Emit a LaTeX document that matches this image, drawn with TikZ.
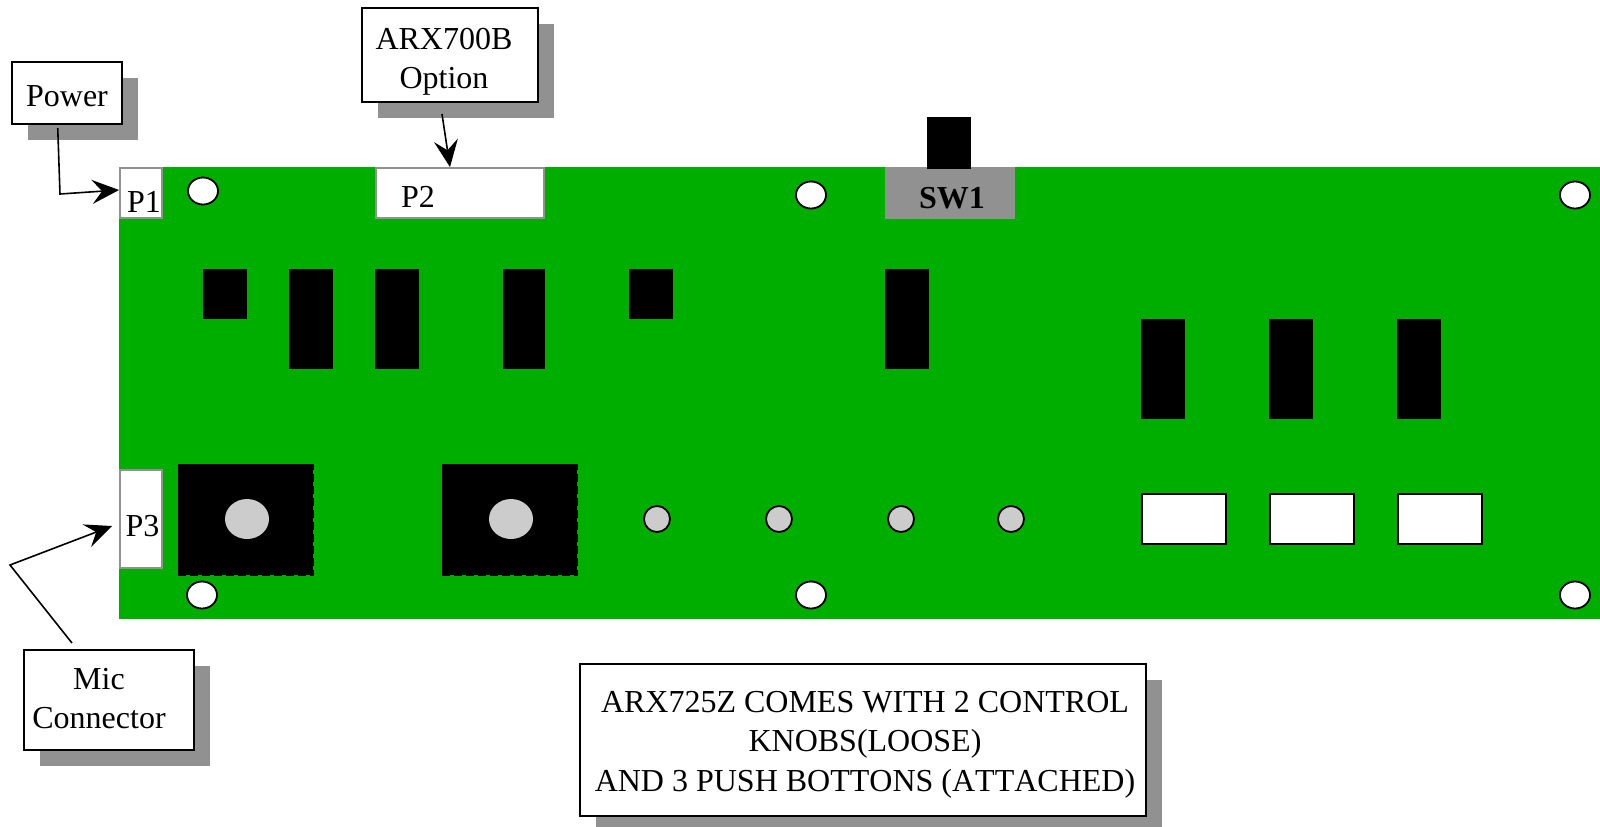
\documentclass[tikz,border=0pt]{standalone}
\usepackage{fontspec}
\setmainfont[Kerning=Off]{Liberation Serif}
\usepackage{tikz}
\usetikzlibrary{arrows.meta,positioning,shapes,shadows,calc}
\definecolor{pcbgreen}{RGB}{0,174,0}
\definecolor{shadegray}{RGB}{145,145,145}
\definecolor{knobgray}{RGB}{204,204,204}
\begin{document}
\begin{tikzpicture}[x=0.5pt,y=-0.5pt,
    every node/.style={font=\fontsize{16}{19.7}\selectfont,inner sep=0pt,align=center},
    callout/.style={draw=black,line width=1pt,fill=white,
        drop shadow={shadow xshift=8.2pt,shadow yshift=-8.2pt,fill=shadegray,opacity=1}},
    port/.style={draw=shadegray,line width=0.9pt,fill=white},
    chip/.style={fill=black},
    hole/.style={draw=black,line width=0.9pt,fill=white,ellipse,minimum width=15pt,minimum height=13.5pt},
    pot/.style={fill=knobgray,ellipse,minimum width=22pt,minimum height=20pt},
    led/.style={draw=black,line width=0.9pt,fill=knobgray,circle,minimum size=13pt},
    pushbtn/.style={draw=black,line width=0.9pt,fill=white},
    lead/.style={line width=0.8pt,-{Stealth[length=13.5pt,width=12pt,inset=5pt]}}]
    \useasboundingbox (0,0) rectangle (1600,826);
    % board
    \fill [pcbgreen] (119,167) rectangle (1600,619);
    % mounting holes
    \node [hole] (h1) at (203,191) {};
    \node [hole] (h2) at (811,195) {};
    \node [hole] (h3) at (1575,195) {};
    \node [hole] (h4) at (202,595) {};
    \node [hole] (h5) at (811,595) {};
    \node [hole] (h6) at (1575,595) {};
    % ports
    \node [port,minimum width=21pt,minimum height=25pt] (p1) at (141,193) {};
    \node [anchor=base] (p1text) at (144,212) {P1};
    \node [port,minimum width=84pt,minimum height=25pt] (p2) at (460,193) {};
    \node [anchor=base] (p2text) at (418,207) {P2};
    \node [port,minimum width=21pt,minimum height=49pt] (p3) at (141,519) {};
    \node [anchor=base] (p3text) at (142.5,536) {P3};
    % switch
    \fill [shadegray] (885,167) rectangle (1015,218.5);
    \fill [chip] (927,117) rectangle (971,169);
    \node [anchor=base,font=\fontsize{16}{19.7}\selectfont\bfseries] (sw1) at (952,208) {SW1};
    % upper row of chips
    \fill [chip] (203,269) rectangle (247,318.5);
    \fill [chip] (289,269) rectangle (333,368.5);
    \fill [chip] (375,269) rectangle (419,368.5);
    \fill [chip] (503,269) rectangle (545,368.5);
    \fill [chip] (629,269) rectangle (673,318.5);
    \fill [chip] (885,269) rectangle (929,368.5);
    \fill [chip] (1141,319) rectangle (1185,419);
    \fill [chip] (1269,319) rectangle (1313,419);
    \fill [chip] (1397,319) rectangle (1441,419);
    % control knobs
    \fill [chip] (178,464) rectangle (312.5,574.5);
    \draw [line width=1pt,dash pattern=on 4pt off 2pt] (178,575) -- (313,575) -- (313,464);
    \node [pot] (knob1) at (247,519) {};
    \fill [chip] (442,464) rectangle (576.5,574.5);
    \draw [line width=1pt,dash pattern=on 4pt off 2pt] (442,575) -- (577,575) -- (577,464);
    \node [pot] (knob2) at (511,519) {};
    % small round parts
    \node [led] (led1) at (657,519) {};
    \node [led] (led2) at (779,519) {};
    \node [led] (led3) at (901,519) {};
    \node [led] (led4) at (1011,519) {};
    % push buttons
    \draw [pushbtn] (1142,494) rectangle (1226,544);
    \draw [pushbtn] (1270,494) rectangle (1354,544);
    \draw [pushbtn] (1398,494) rectangle (1482,544);
    % callouts
    \node [callout,minimum width=55pt,minimum height=31pt] (power) at (66.75,93) {};
    \node (powertext) at (67,96) {Power};
    \node [callout,minimum width=88pt,minimum height=47pt] (arx) at (450,55) {};
    \node (arxtext) at (444,62) {ARX700B\\Option};
    \node [callout,minimum width=85pt,minimum height=50pt] (mic) at (109,700) {};
    \node (mictext) at (99,698.5) {Mic\\Connector};
    \node [callout,minimum width=283pt,minimum height=76pt] (note) at (863,739.5) {};
    \node (notetext) at (865,744.5) {ARX725Z COMES WITH 2 CONTROL\\KNOBS(LOOSE)\\AND 3 PUSH BOTTONS (ATTACHED)};
    % leads
    \coordinate (powerbend) at (60,194);
    \coordinate (micbend) at (10,565);
    \draw [lead] ($(power.south)+(-9,3)$) -- (powerbend) -- ($(p1.west)+(0,-3)$);
    \draw [lead] ($(arx.south)+(-8,11)$) -- ($(p2.north)+(-10,0)$);
    \draw [lead] ($(mic.north)+(-37,-6)$) -- (micbend) -- ($(p3.west)+(-7,7)$);
\end{tikzpicture}
\end{document}
